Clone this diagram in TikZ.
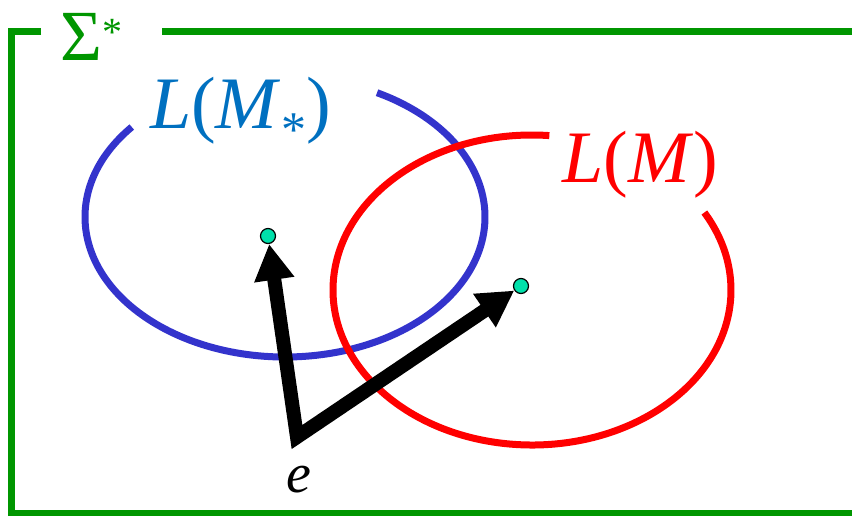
\documentclass[tikz,border=0pt]{standalone}
\usepackage{fontspec}
\setmainfont{Liberation Serif}
\usetikzlibrary{arrows.meta}
\definecolor{sigmagreen}{RGB}{0,150,0}
\definecolor{langblue}{RGB}{51,51,204}
\definecolor{textblue}{RGB}{0,112,192}
\definecolor{wordgreen}{RGB}{0,224,170}
\begin{document}
\begin{tikzpicture}[
    x=1pt, y=-1pt,
    frame/.style={draw=sigmagreen, line width=7pt},
    lang/.style={line width=7pt},
    word/.style={circle, draw, fill=wordgreen, line width=1.2pt, inner sep=0pt, minimum size=15pt},
    vec/.style={line width=14pt, line join=miter, {Triangle[length=36pt, width=38pt]}-{Triangle[length=36pt, width=38pt]}},
    bigtext/.style={inner sep=0pt, anchor=base west, font=\fontsize{74}{74}\selectfont}
]
    \useasboundingbox (0,0) rectangle (852,515);

    \draw[frame] (41,31) -- (11.5,31) -- (11.5,513.5) -- (870,513.5);
    \draw[frame] (162,31) -- (870,31);
    \node[bigtext, text=sigmagreen, font=\fontsize{72}{72}\selectfont] (sigma) at (60,60)
        {Σ\raisebox{15pt}{\fontsize{40}{40}\selectfont *}};

    \coordinate (cstar) at (285,217);
    \coordinate (cm) at (532,290);
    \draw[lang, langblue] (cstar) ++(140:200pt and 140pt)
        arc[start angle=140, end angle=422.6, x radius=200pt, y radius=140pt];
    \draw[lang, red] (cm) ++(85:199pt and 155pt)
        arc[start angle=85, end angle=390, x radius=199pt, y radius=155pt];

    \node[bigtext, text=textblue] (lstar) at (150,128)
        {\textit{L}(\textit{M}\raisebox{-18pt}{\fontsize{50}{50}\selectfont *})};
    \node[bigtext, text=red] (lm) at (562,182)
        {\textit{L}(\textit{M})};

    \node[word] (w1) at (268,236) {};
    \node[word] (w2) at (521,286) {};
    \coordinate (o) at (297,437);
    \draw[vec] (w1) -- (o) -- (w2);
    \node[inner sep=0pt, anchor=base, font=\fontsize{56}{56}\selectfont] (elab) at (299,492) {\textit{e}};
\end{tikzpicture}
\end{document}
